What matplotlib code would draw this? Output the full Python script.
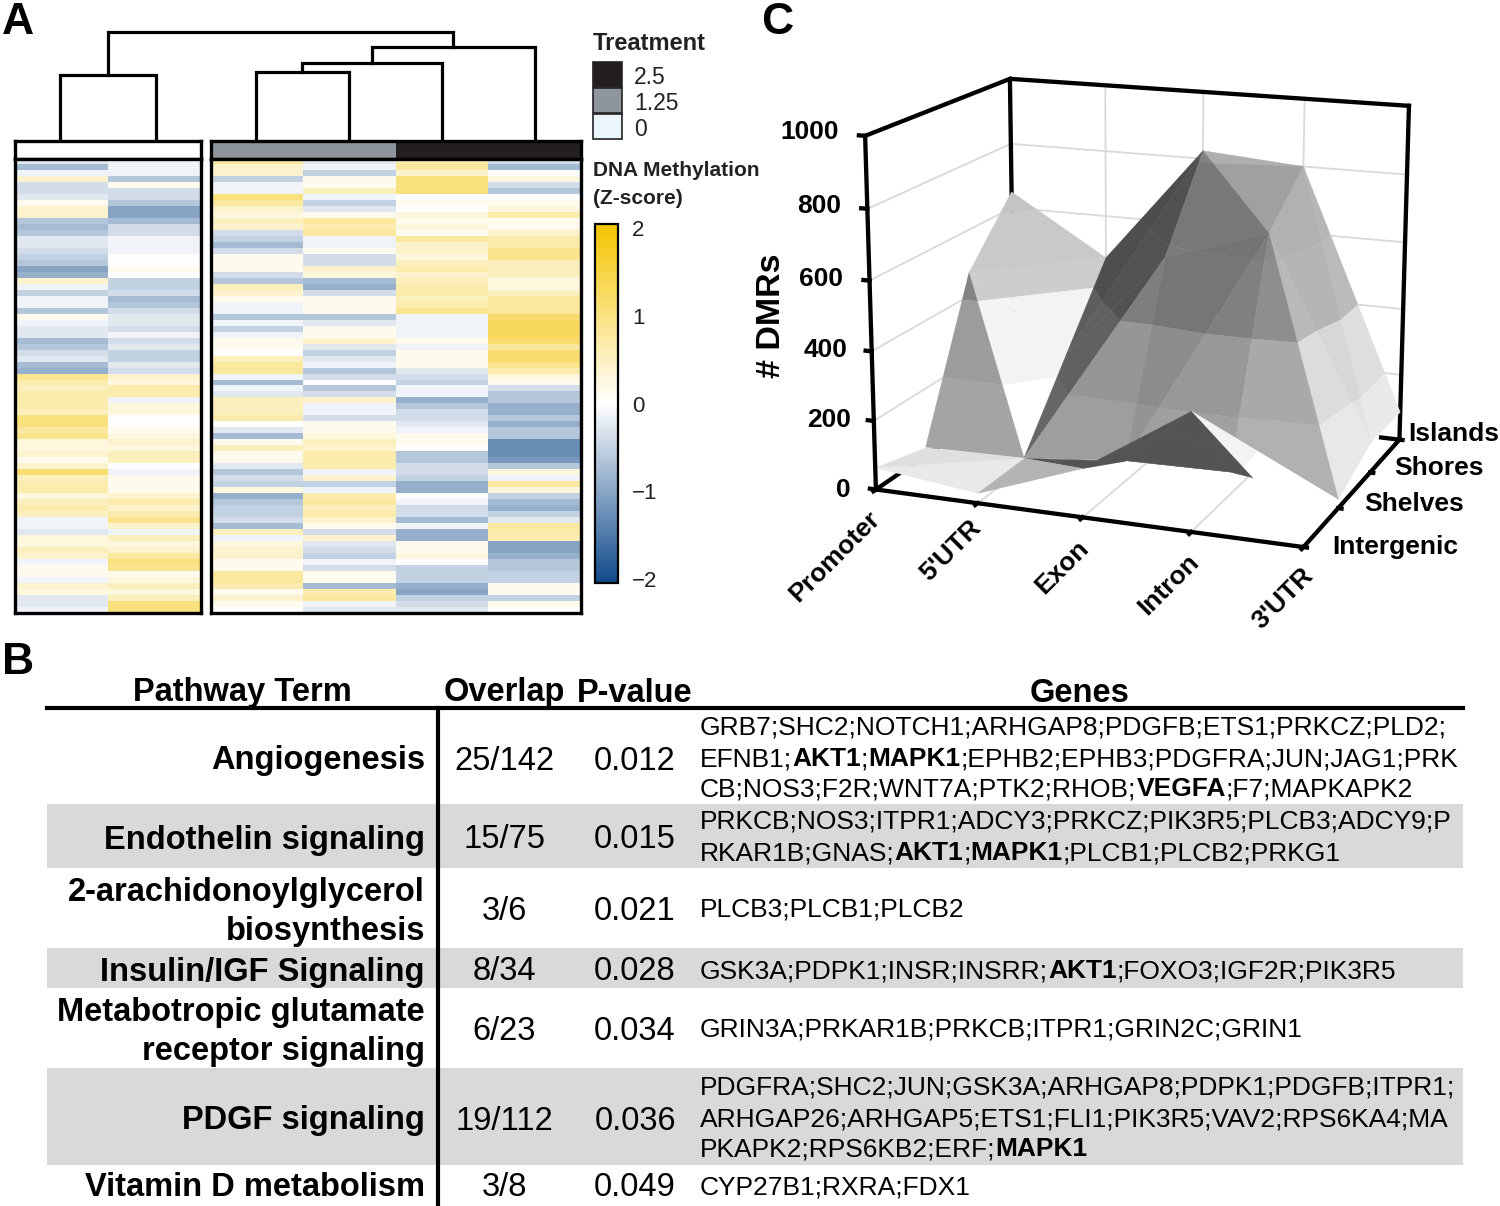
import numpy as np
import matplotlib
matplotlib.use('Agg')
import matplotlib.pyplot as plt
from matplotlib.colors import LinearSegmentedColormap
from matplotlib.patches import Rectangle
from mpl_toolkits.mplot3d.art3d import Poly3DCollection

plt.rcParams['font.family'] = ['Liberation Sans', 'DejaVu Sans']

# heatmap values (10 = strongest shade seen)
col1 = [-2, -6, -1, 3, -3, -3, -2, 1, 3, 3, -5, -6, -5, -2, -2, -3, -4, -5, -8, -7, 3, -1, -4, -1, -1, -5, 1, -1, -2, -2, -6, -5, -3, -2, -6, -7,
        7, 5, 4, 5, 5, 5, 4, 8, 8, 6, 7, 2, 2, 3, 1, 3, 9, 4, 5, 5, 2, 4, 5, 4, -1, -1, -2, 2, 2, 4, 3, -1, 1, 1, -1, 3, 2, -2, -2, -1]
col2 = [-1, -1, -1, -5, 1, -3, -3, -5, -8, -8, -6, -3, -3, -1, -1, -1, 0, 0, 1, 0, -4, -4, -3, -6, -5, -3, -2, -2, -3, -1, -3, -2, -4, -4, -2, -3,
        3, 2, 5, 5, -1, 2, 2, 0, 0, 1, 2, 3, 2, 4, 4, 0, -1, 1, 1, 1, 3, 5, 3, 5, 7, 3, -1, 4, 2, 3, 6, 8, 7, 1, 2, 4, 2, 4, 8, 8]
col3 = [6, 3, 3, -4, -1, -1, 8, 6, 3, 2, 4, 3, -3, -4, -6, -3, 1, 1, 1, -3, -5, 4, 3, 1, -1, -1, -5, -1, -4, -1, 1, 1, 0, 4, 6, 6,
        -1, -6, -1, -2, 4, 4, 4, 5, 0, -2, -6, 1, 4, 1, 1, -2, -5, -3, -4, 2, -7, -5, -4, -4, -3, -6, 4, -1, 2, 3, 3, 1, 1, 6, 6, 5, 1, 3, 1, 0]
col4 = [-2, -1, -4, 1, 1, 4, -1, -4, -2, 1, 6, 5, 6, -1, -1, 1, -3, -3, 3, 2, -6, -7, -3, 1, 1, 1, -5, -2, 1, 1, 3, -2, -4, -2, -1, -5,
        -3, 0, -5, -3, 3, -1, -1, -3, 1, 1, 2, 4, 3, 5, 5, 5, -1, 3, -4, -1, 5, 6, 4, 5, 3, 1, -3, 3, -2, -3, -4, -1, -3, 1, 1, -6, 5, 6, -1, -2]
col5 = [5, 6, 3, 8, 8, 8, 0, 1, 0, 2, 1, 2, 1, 6, 3, 3, 2, 4, 5, 3, 4, 5, 5, 4, 5, 7, -1, -1, -1, -1, 1, -1, 1, 1, 1, -2,
        -3, -4, -1, -1, -7, -5, -3, -3, -2, -1, 1, 1, 0, -5, -5, -3, -3, -4, -7, -7, 0, -1, -3, -3, -6, -1, -7, -7, 1, 1, 2, 0, -4, -4, -4, -7, -8, -4, -3, -2]
col6 = [-3, -6, 0, 2, -3, -5, 0, 1, 2, 5, 1, 1, 3, 5, 5, 7, 7, 4, 4, 4, 2, 2, 4, 6, 6, 6, 9, 10, 10, 10, 9, 6, 9, 9, 7, 5,
        2, 1, -3, -5, -5, -7, -7, -5, -7, -5, -5, -10, -10, -10, -9, -5, 2, -1, 6, 2, -4, -6, -7, -4, -2, 6, 5, 5, -8, -8, -7, -5, -5, -4, -4, 1, 1, -4, 1, 0]

treatment_labels = ['2.5', '1.25', '0']
treatment_colors = ['#231f20', '#8e959c', '#eaf6fb']
cbar_ticks = [2, 1, 0, -1, -2]
cbar_labels = ['2', '1', '0', '\u22121', '\u22122']

# dendrogram merges: left leg, right leg, left base, right base, merge height
dendro_links = [
    (60, 156, 0, 0, 64),
    (256, 349, 0, 0, 67),
    (302, 442, 67, 0, 76),
    (372, 535, 76, 0, 92),
    (108, 453, 64, 92, 107),
]

# panel C, rows go Intergenic -> Islands, columns Promoter -> 3'UTR
regions = ['Promoter', "5'UTR", 'Exon', 'Intron', "3'UTR"]
cpg_classes = ['Intergenic', 'Shelves', 'Shores', 'Islands']
dmr_intergenic = [65, 30, 140, 335, 40]
dmr_shelves = [25, 30, 60, 65, 25]
dmr_shores = [470, 250, 575, 670, 90]
dmr_islands = [650, 470, 824, 800, 85]
z_ticks = [0, 200, 400, 600, 800, 1000]

# panel B table
terms = ['Angiogenesis', 'Endothelin signaling', '2-arachidonoylglycerol\nbiosynthesis', 'Insulin/IGF Signaling',
         'Metabotropic glutamate\nreceptor signaling', 'PDGF signaling', 'Vitamin D metabolism']
overlaps = ['25/142', '15/75', '3/6', '8/34', '6/23', '19/112', '3/8']
pvalues = ['0.012', '0.015', '0.021', '0.028', '0.034', '0.036', '0.049']
genes = [
    ['GRB7;SHC2;NOTCH1;ARHGAP8;PDGFB;ETS1;PRKCZ;PLD2;',
     'EFNB1;**AKT1**;**MAPK1**;EPHB2;EPHB3;PDGFRA;JUN;JAG1;PRK',
     'CB;NOS3;F2R;WNT7A;PTK2;RHOB;**VEGFA**;F7;MAPKAPK2'],
    ['PRKCB;NOS3;ITPR1;ADCY3;PRKCZ;PIK3R5;PLCB3;ADCY9;P',
     'RKAR1B;GNAS;**AKT1**;**MAPK1**;PLCB1;PLCB2;PRKG1'],
    ['PLCB3;PLCB1;PLCB2'],
    ['GSK3A;PDPK1;INSR;INSRR;**AKT1**;FOXO3;IGF2R;PIK3R5'],
    ['GRIN3A;PRKAR1B;PRKCB;ITPR1;GRIN2C;GRIN1'],
    ['PDGFRA;SHC2;JUN;GSK3A;ARHGAP8;PDPK1;PDGFB;ITPR1;',
     'ARHGAP26;ARHGAP5;ETS1;FLI1;PIK3R5;VAV2;RPS6KA4;MA',
     'PKAPK2;RPS6KB2;ERF;**MAPK1**'],
    ['CYP27B1;RXRA;FDX1'],
]

W, H = 1500, 1206
fig = plt.figure(figsize=(15, 12.06), dpi=100)


def add_px_axes(x0, y0, x1, y1, **kw):
    return fig.add_axes([x0 / W, 1 - y1 / H, (x1 - x0) / W, (y1 - y0) / H], **kw)


cmap = LinearSegmentedColormap.from_list('meth', ['#0f4a8a', '#ffffff', '#f4c400'])


def heat_panel(x0, x1, columns, anno):
    # annotation strip
    ax = add_px_axes(x0, 141, x1, 159)
    for i, c in enumerate(anno):
        ax.add_patch(Rectangle((i / len(anno), 0), 1 / len(anno), 1, color=c, lw=0))
    ax.set_xticks([])
    ax.set_yticks([])
    for s in ax.spines.values():
        s.set_linewidth(2.4)
    # heatmap
    ax = add_px_axes(x0, 159, x1, 613)
    data = np.array(columns).T / 8.
    ax.imshow(data, aspect='auto', cmap=cmap, vmin=-2, vmax=2, interpolation='nearest')
    ax.set_xticks([])
    ax.set_yticks([])
    for s in ax.spines.values():
        s.set_linewidth(2.4)


heat_panel(15, 201, [col1, col2], ['white'])
heat_panel(211, 581, [col3, col4, col5, col6], [treatment_colors[1], treatment_colors[0]])

# colorbar
cax = add_px_axes(595, 224, 618, 583)
sm = plt.cm.ScalarMappable(cmap=cmap, norm=plt.Normalize(-2.05, 2.05))
cb = fig.colorbar(sm, cax=cax)
cb.set_ticks(cbar_ticks)
cb.set_ticklabels(cbar_labels)
cb.ax.tick_params(length=0, labelsize=16, pad=10, colors='#222222')
cb.outline.set_linewidth(1.6)

# panel C
ax3 = add_px_axes(817, -16, 1457, 624, projection='3d')
ax3.set_proj_type('persp', focal_length=0.7)
ax3.view_init(elev=15, azim=-69)
ax3.set_box_aspect((440, 335, 354))
ax3.set_xlim(0, 4)
ax3.set_ylim(0, 3)
ax3.set_zlim(0, 1000)
ax3.set_axis_off()
ax3.patch.set_alpha(0)
ax3.computed_zorder = False

# grid on the walls and floor
grid_c = '#d9d9d9'
for z in z_ticks[1:-1]:
    ax3.plot([0, 0, 4], [0, 3, 3], [z, z, z], color=grid_c, lw=1.3, zorder=1)
for x in [1, 2, 3]:
    ax3.plot([x, x], [3, 3], [0, 1000], color=grid_c, lw=1.3, zorder=1)
    ax3.plot([x, x], [0, 3], [0, 0], color=grid_c, lw=1.3, zorder=1)

# back edges, under the surface
k = dict(color='black', lw=3.1, solid_capstyle='projecting', zorder=2)
ax3.plot([0, 0], [0, 3], [0, 0], **k)
ax3.plot([0, 0, 4], [3, 3, 3], [0, 1000, 1000], **k)
ax3.plot([4, 4], [3, 3], [0, 1000], **k)
ax3.plot([0, 0], [0, 3], [1000, 1000], **k)

Z = np.array([dmr_intergenic, dmr_shelves, dmr_shores, dmr_islands], dtype=float)
band_edges = [0, 200, 400, 600, 800, 1000]
band_mult = [1.0, 0.95, 0.8, 0.78, 0.85]
# box scale per step in x, y, z, and unit vector to the camera
sx, sy, sz = 440 / 4., 335 / 3., 0.354
cam = np.array([0.33, -0.90, 0.26])


def clip_z(poly, level, keep_above):
    out = []
    for a, b in zip(poly, poly[1:] + poly[:1]):
        ina = a[2] >= level if keep_above else a[2] <= level
        inb = b[2] >= level if keep_above else b[2] <= level
        if ina:
            out.append(a)
        if ina != inb:
            t = (level - a[2]) / (b[2] - a[2])
            out.append(tuple(a[i] + t * (b[i] - a[i]) for i in range(3)))
    return out


def tri_shade(tri):
    p = np.array(tri) * [sx, sy, sz]
    n = np.cross(p[1] - p[0], p[2] - p[0])
    n = n / np.linalg.norm(n)
    if n[2] < 0:
        n = -n
    if n @ cam < 0:
        return None  # seeing the sheet from below
    if n[0] > 0:
        s = 0.85 + 0.62 * n[0] - 0.6 * n[0] ** 2
    else:
        s = 0.85 + 0.34 * n[0] - 0.28 * n[0] ** 2
    return s + 0.25 * n[1] + 0.8 * max(n[0], 0) * max(-n[1] - 0.2, 0)


def draw_tri(tri, zo):
    s = tri_shade(tri)
    polys, cols = [], []
    for b in range(5):
        p = clip_z(tri, band_edges[b], True)
        if len(p) > 2:
            p = clip_z(p, band_edges[b + 1], False)
        if len(p) < 3:
            continue
        g = 0.33 if s is None else min(s * band_mult[b], 1.0)
        polys.append(p)
        cols.append((g, g, g))
    pc = Poly3DCollection(polys, facecolors=cols, edgecolors=cols, linewidths=0.3, zorder=zo)
    ax3.add_collection3d(pc)


# painter's order: back rows first, then left to right
zo = 3.0
for j in [2, 1, 0]:
    for i in range(4):
        p00 = (i, j, Z[j, i])
        p10 = (i + 1, j, Z[j, i + 1])
        p01 = (i, j + 1, Z[j + 1, i])
        p11 = (i + 1, j + 1, Z[j + 1, i + 1])
        # the diagonal follows the higher pair of corners
        if Z[j + 1, i] + Z[j, i + 1] >= Z[j, i] + Z[j + 1, i + 1]:
            tris = [[p10, p11, p01], [p00, p10, p01]]
        else:
            tris = [[p00, p11, p01], [p00, p10, p11]]
        for t in tris:
            draw_tri(t, zo)
            zo += 0.01

# front edges and ticks
k['zorder'] = 10
ax3.plot([0, 0], [0, 0], [0, 1000], **k)
ax3.plot([0, 4, 4], [0, 0, 3], [0, 0, 0], **k)
for z in z_ticks:
    ax3.plot([0, -0.06], [0, 0], [z, z], **k)
for x in range(5):
    ax3.plot([x, x], [0, -0.05], [0, 0], **k)
for y in range(4):
    ax3.plot([4, 4.03], [y, y], [0, 0], **k)
ax3.plot([3.82, 4], [3, 3], [0, 0], **k)

# overlay in pixel coordinates for the dendrogram, legends and table
ov = fig.add_axes([0, 0, 1, 1], zorder=20)
ov.set_xlim(0, W)
ov.set_ylim(H, 0)
ov.axis('off')
ov.patch.set_alpha(0)

base_y = 139
for xl, xr, bl, br, h in dendro_links:
    ov.plot([xl, xl, xr, xr], [base_y - bl, base_y - h, base_y - h, base_y - br], color='black', lw=2.3,
            solid_joinstyle='miter')

for lab, (x, y) in zip('ABC', [(18, 22), (18, 662), (777, 22)]):
    ov.text(x, y, lab, fontsize=32, fontweight='bold', ha='center', va='center')

ov.text(593, 44, 'Treatment', fontsize=17, fontweight='bold', va='center', color='#222222')
for i, lab in enumerate(treatment_labels):
    ov.add_patch(Rectangle((593, 62 + 26 * i), 29, 25, facecolor=treatment_colors[i], edgecolor='#222222', lw=1.2))
    ov.text(634, 78 + 25.5 * i, lab, fontsize=16.5, va='center', color='#222222')
ov.text(593, 170, 'DNA Methylation', fontsize=15, fontweight='bold', va='center', color='#222222')
ov.text(593, 199, '(Z-score)', fontsize=15, fontweight='bold', va='center', color='#222222')

# panel C labels
ov.text(771, 316, '# DMRs', fontsize=24.5, fontweight='bold', rotation=90, ha='center', va='center')
for z, x, y in zip(z_ticks, [851, 851, 848, 843, 841, 839], [490, 420, 350, 279, 206, 132]):
    ov.text(x, y, str(z), fontsize=19, fontweight='bold', ha='right', va='center')
for lab, x, y in zip(regions, [835, 951, 1062, 1169, 1283], [557, 551, 567, 585, 598]):
    ov.text(x, y, lab, fontsize=19, fontweight='bold', rotation=45, ha='center', va='center', rotation_mode='anchor')
for lab, x, y in zip(cpg_classes, [1332, 1364, 1394, 1408], [547, 504, 468, 434]):
    ov.text(x, y, lab, fontsize=19, fontweight='bold', va='center')

# panel B table
for y0, y1 in [(804, 868), (948, 988), (1068, 1165)]:
    ov.add_patch(Rectangle((47, y0), 1416, y1 - y0, color='#d9d9d9', lw=0))
ov.plot([47, 1463], [708, 708], color='black', lw=3)
ov.plot([438, 438], [708, 1206], color='black', lw=3)

for lab, x in zip(['Pathway Term', 'Overlap', 'P-value', 'Genes'], [242, 504, 635, 1080]):
    ov.text(x, 693, lab, fontsize=23.5, fontweight='bold', ha='center', va='center')

row_y = [761, 840, 912, 972, 1032, 1121, 1188]
gene_y = [[728, 759, 789], [822, 853], [910], [971], [1030], [1088, 1119, 1149], [1187]]
renderer = fig.canvas.get_renderer()


def rich_text(x, y, s, size):
    # ** switches between regular and bold
    for i, part in enumerate(s.split('**')):
        if not part:
            continue
        t = ov.text(x, y, part, fontsize=size, fontweight='bold' if i % 2 else 'normal', va='center')
        x += t.get_window_extent(renderer).width


for i in range(len(terms)):
    lines = terms[i].split('\n')
    for n, line in enumerate(lines):
        ov.text(425, row_y[i] + (n - (len(lines) - 1) / 2.) * 39, line, fontsize=23.5, fontweight='bold', ha='right', va='center')
    ov.text(504, row_y[i], overlaps[i], fontsize=23.5, ha='center', va='center')
    ov.text(635, row_y[i], pvalues[i], fontsize=23.5, ha='center', va='center')
    for line, y in zip(genes[i], gene_y[i]):
        rich_text(700, y, line, 19)

fig.savefig('out.png', dpi=100)
